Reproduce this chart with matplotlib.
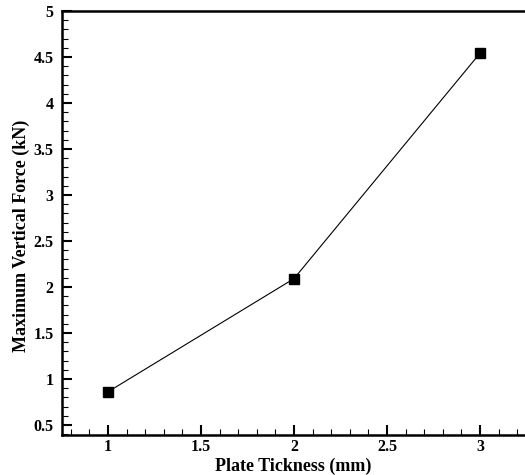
import numpy as np
import matplotlib
matplotlib.use('Agg')
import matplotlib.pyplot as plt
from matplotlib.ticker import MultipleLocator

# plate thickness (mm) vs. peak vertical force (kN)
thickness = [1, 2, 3]
max_force = [0.86, 2.09, 4.54]

plt.rcParams['font.family'] = ['Liberation Serif', 'DejaVu Serif']
plt.rcParams['font.weight'] = 'bold'

fig = plt.figure(figsize=(5.25, 4.75), dpi=100)
ax = fig.add_axes([0.118, 0.084, 0.882, 0.893])

ax.plot(thickness, max_force, color='black', linewidth=0.8,
        marker='s', markersize=7.5, markerfacecolor='black', markeredgecolor='black')

ax.set_xlim(0.753, 3.242)
ax.set_ylim(0.39, 5.0)

ax.xaxis.set_major_locator(MultipleLocator(0.5))
ax.xaxis.set_minor_locator(MultipleLocator(0.1))
ax.yaxis.set_major_locator(MultipleLocator(0.5))
ax.yaxis.set_minor_locator(MultipleLocator(0.1))
ax.xaxis.set_major_formatter(plt.FuncFormatter(lambda v, p: ('%g' % v)))
ax.yaxis.set_major_formatter(plt.FuncFormatter(lambda v, p: ('%g' % v)))

ax.tick_params(which='both', direction='in', top=False, right=False)
ax.tick_params(which='major', length=7, width=1.5, labelsize=11.5)
ax.tick_params(axis='y', which='major', pad=6)
ax.tick_params(axis='x', which='major', pad=3)
ax.tick_params(which='minor', length=4, width=0.8)

for side in ['left', 'bottom', 'top']:
    ax.spines[side].set_linewidth(1.8)
ax.spines['right'].set_visible(False)

ax.set_xlabel('Plate Tickness (mm)', fontsize=13, fontweight='bold')
ax.xaxis.set_label_coords(0.5, -0.053)
ax.set_ylabel('Maximum Vertical Force (kN)', fontsize=13, fontweight='bold')
ax.yaxis.set_label_coords(-0.068, 0.469)

fig.savefig('out.png', dpi=100)
plt.close(fig)
